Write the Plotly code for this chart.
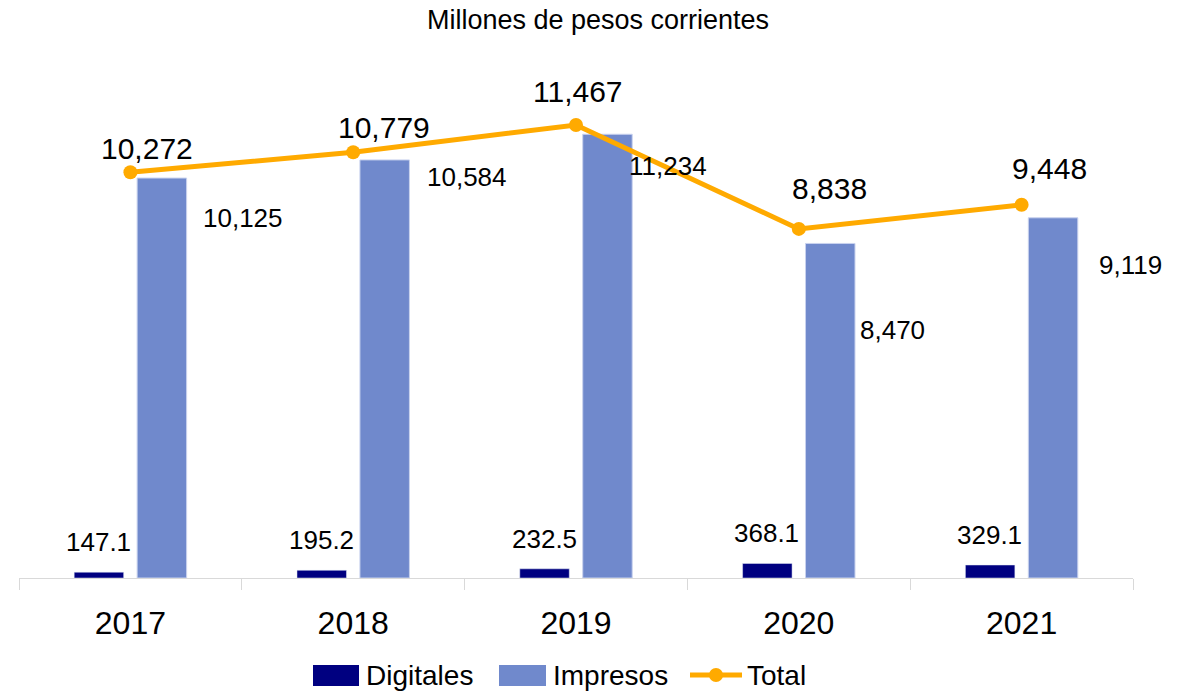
import plotly.graph_objects as go

years = ["2017", "2018", "2019", "2020", "2021"]
digitales = [147.1, 195.2, 232.5, 368.1, 329.1]
impresos = [10125, 10584, 11234, 8470, 9119]
total = [10272, 10779, 11467, 8838, 9448]

# label placement offsets (pixels, relative to category centre / value)
dig_dx = [-32, -32, -32, -32, -32]
dig_dy = [30, 30, 30, 30, 30]
imp_dx = [113, 114, 92, 94, 109]
imp_dy = [-40, -17, -32, -87, -47]
tot_dx = [17, 31, 2, 31, 28]
tot_dy = [24, 25, 34, 40, 36]

FONT = "Liberation Sans, Arial, sans-serif"
C_DIG = "#000080"
C_IMP = "#7089CC"
C_TOT = "#FFAA00"

W, H = 1187, 694
ML, MR, MT, MB = 19, 54, 25, 116
PH = H - MT - MB


def py2paper(py):
    return (H - MB - py) / PH


def px2paper(px):
    return (px - ML) / (W - ML - MR)


fig = go.Figure()
fig.add_trace(go.Bar(x=years, y=digitales, name="Digitales", marker=dict(color=C_DIG),
                     showlegend=False))
fig.add_trace(go.Bar(x=years, y=impresos, name="Impresos",
                     marker=dict(color=C_IMP, line=dict(color="#C9D2EE", width=1)),
                     showlegend=False))
fig.add_trace(go.Scatter(x=years, y=total, name="Total", mode="lines+markers",
                         line=dict(color=C_TOT, width=5),
                         marker=dict(color=C_TOT, size=14), showlegend=False))

ann = []
for i in range(len(years)):
    ann.append(dict(x=i, y=digitales[i], text=f"{digitales[i]:.1f}", showarrow=False,
                    xshift=dig_dx[i], yshift=dig_dy[i], font=dict(size=26)))
    ann.append(dict(x=i, y=impresos[i], text=f"{impresos[i]:,}", showarrow=False,
                    xshift=imp_dx[i], yshift=imp_dy[i], font=dict(size=26)))
    ann.append(dict(x=i, y=total[i], text=f"{total[i]:,}", showarrow=False,
                    xshift=tot_dx[i], yshift=tot_dy[i], font=dict(size=30)))

# custom legend
shapes = []
leg_y0, leg_y1 = py2paper(686), py2paper(665)
leg_mid = py2paper(675)
for name, color, x0, x1, tx in [("Digitales", C_DIG, 313, 359, 364),
                                ("Impresos", C_IMP, 499, 546, 551)]:
    shapes.append(dict(type="rect", xref="paper", yref="paper", x0=px2paper(x0), x1=px2paper(x1),
                       y0=leg_y0, y1=leg_y1, fillcolor=color, line=dict(width=0)))
    ann.append(dict(xref="paper", yref="paper", x=px2paper(tx), y=leg_mid, text=name,
                    showarrow=False, xanchor="left", yanchor="middle", font=dict(size=28)))
shapes.append(dict(type="line", xref="paper", yref="paper", x0=px2paper(690), x1=px2paper(742),
                   y0=leg_mid, y1=leg_mid, line=dict(color=C_TOT, width=5)))
shapes.append(dict(type="circle", xref="paper", yref="paper", x0=px2paper(709), x1=px2paper(723),
                   y0=py2paper(682), y1=py2paper(668), fillcolor=C_TOT, line=dict(width=0)))
ann.append(dict(xref="paper", yref="paper", x=px2paper(745), y=leg_mid, text="Total",
                showarrow=False, xanchor="left", yanchor="middle", font=dict(size=28)))

fig.update_layout(
    width=W, height=H,
    margin=dict(l=ML, r=MR, t=MT, b=MB),
    paper_bgcolor="white", plot_bgcolor="white",
    font=dict(family=FONT, color="black"),
    barmode="group", bargap=0.435, bargroupgap=0.214,
    title=dict(text="Millones de pesos corrientes", x=598 / W, xanchor="center",
               y=1 - 20 / H, yanchor="middle", font=dict(size=27)),
    xaxis=dict(showline=True, linecolor="#D9D9D9", linewidth=1, ticks="outside",
               tickson="boundaries", ticklen=11, tickcolor="#D9D9D9",
               tickfont=dict(size=32), ticklabelstandoff=17,
               showgrid=False, range=[-0.5, 4.5]),
    yaxis=dict(visible=False, range=[0, 14000], showgrid=False),
    annotations=ann, shapes=shapes,
)
fig.write_html("out.html", config={"displayModeBar": False},
               post_script="document.body.style.margin='0';")
